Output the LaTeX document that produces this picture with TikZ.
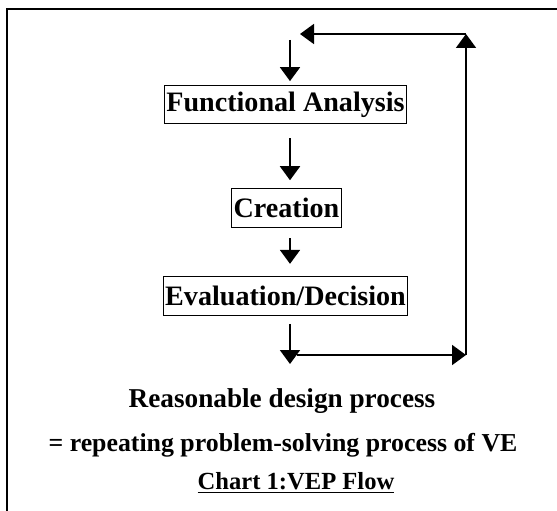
\documentclass[tikz,border=0pt]{standalone}
\usepackage{fontspec}
\setmainfont{Liberation Serif}
\usetikzlibrary{arrows.meta}

\tikzset{
  stepbox/.style={draw,line width=0.6pt,inner xsep=1pt,inner ysep=0pt,minimum height=22pt,font=\fontsize{16}{19}\selectfont\bfseries},
  caption/.style={font=\fontsize{#1}{18}\selectfont\bfseries},
  flow/.style={line width=1.1pt,arrows={-Triangle[width=0.4cm,length=0.28cm]}}
}

\begin{document}
\begin{tikzpicture}[x=0.02cm,y=-0.02cm]
    \useasboundingbox (0,0) rectangle (557,510);
    \clip (0,0) rectangle (557,510);
%   frame
    \draw[line width=1.1pt] (7,530) -- (7,9) -- (580,9);

%   steps
    \node[stepbox] (fa) at (285.5,104.5) {Functional Analysis};
    \node[stepbox] (cr) at (286.5,208) {Creation};
    \node[stepbox] (ed) at (285.5,296) {Evaluation/Decision};

%   captions
    \node[caption=15.5] (t1) at (282,401) {Reasonable design process};
    \node[caption=14.7] (t2) at (283,445) {= repeating problem-solving process of VE};
    \node[caption=14] (t3) at (296,483) {\underline{Chart 1:VEP Flow}};

%   loop corners
    \coordinate (top) at (290,40);
    \coordinate (bot) at (290,364);
    \coordinate (lp) at (297,355);
    \coordinate (br) at (466,355);
    \coordinate (tr) at (466,34);
    \coordinate (tl) at (300,34);

    \draw[flow,shorten >=2pt] (top) -- (fa.north -| top);
    \draw[flow,shorten <=8pt,shorten >=4.5pt] (fa.south -| top) -- (cr.north -| top);
    \draw[flow,shorten <=6pt,shorten >=7pt] (cr.south -| top) -- (ed.north -| top);
    \draw[flow,shorten <=4.5pt] (ed.south -| top) -- (bot);
    \draw[flow] (lp) -- (br);
    \draw[flow] (br) -- (tr);
    \draw[flow] (tr) -- (tl);
\end{tikzpicture}
\end{document}
